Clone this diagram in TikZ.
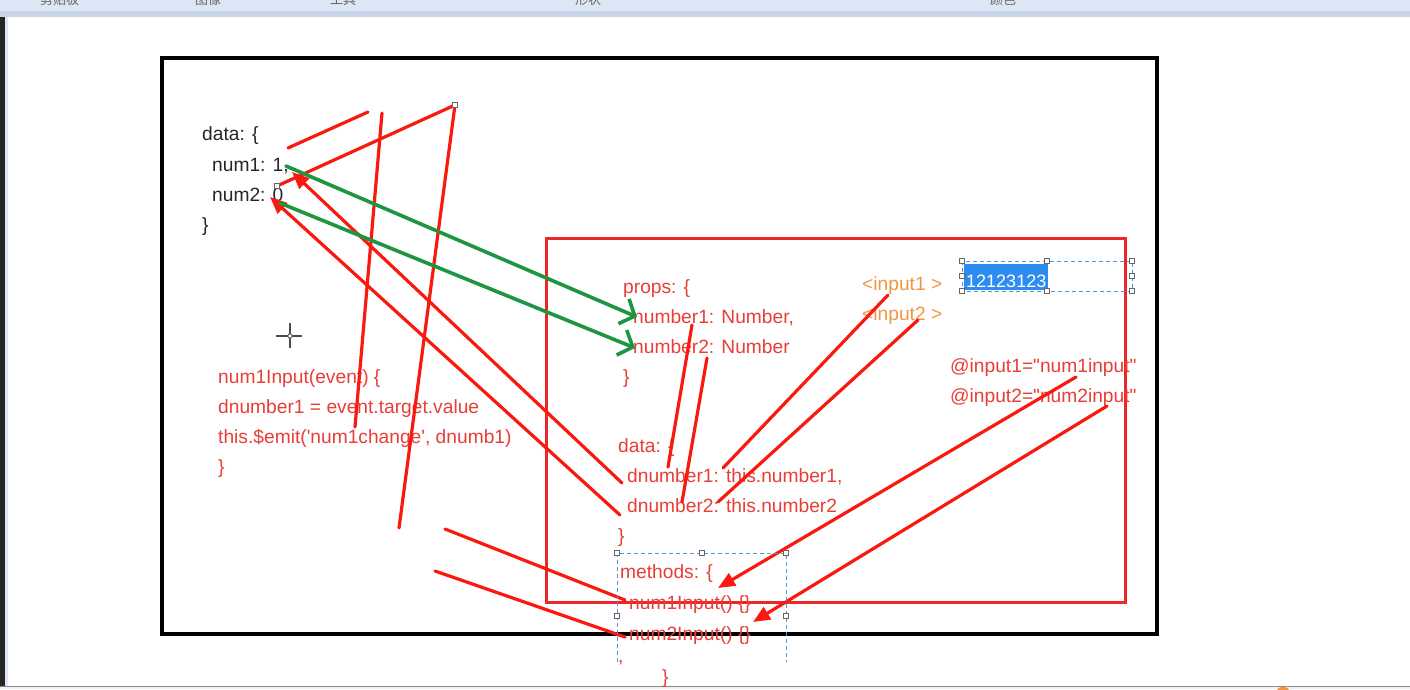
\documentclass[tikz,border=0pt]{standalone}
\usepackage{fontspec}
\setmainfont{Liberation Sans}
\newfontfamily\codefont{Liberation Sans}
\newfontfamily\cjk{Noto Sans CJK SC}
\usetikzlibrary{arrows.meta}
\definecolor{scribred}{RGB}{250,25,15}
\definecolor{codered}{RGB}{232,62,55}
\definecolor{codeorange}{RGB}{242,150,65}
\definecolor{pengreen}{RGB}{30,150,65}
\definecolor{selblue}{RGB}{45,140,240}
\definecolor{dashblue}{RGB}{80,150,220}
\definecolor{barblue}{RGB}{221,230,244}
\definecolor{barband}{RGB}{200,212,232}
\definecolor{boxred}{RGB}{235,40,40}
\begin{document}
\begin{tikzpicture}[x=1pt,y=-1pt,
  codetext/.style={anchor=base west,inner sep=0pt,font=\codefont\fontsize{19.2}{23}\selectfont},
  blacktext/.style={codetext,text=black!85},
  redtext/.style={codetext,text=codered},
  orangetext/.style={codetext,text=codeorange},
  bartext/.style={anchor=base west,inner sep=0pt,font=\cjk\fontsize{13}{15}\selectfont,text=black!60},
  scribble/.style={draw=scribred,line width=3.2pt,line cap=round},
  redarrow/.style={scribble,-{Triangle[length=17pt,width=14pt]}},
  greenarrow/.style={draw=pengreen,line width=3.6pt,line cap=round,
     -{Straight Barb[length=12pt,width=27pt,line width=3.6pt]}},
  handle/.style={draw=black!60,fill=white,line width=0.8pt,minimum size=5pt,inner sep=0pt,rectangle},
  selbox/.style={draw=dashblue,line width=1pt,dash pattern=on 4pt off 3pt}
]
\useasboundingbox (0,0) rectangle (1410,689);
\clip (0,0) rectangle (1410,689);
% window chrome
\fill[white] (0,0) rectangle (1410,689);
\fill[barblue] (0,0) rectangle (1410,11);
\fill[barband] (0,11) rectangle (1410,17);
\fill[black!85] (0,17) rectangle (5,689);
\fill[barblue] (5,17) rectangle (8,689);
\fill[black!6] (0,686) rectangle (1410,689);
\draw[black!45,line width=1pt] (0,686) -- (1410,686);
\fill[codeorange] (1283,690) ellipse (6 and 3);
\node[bartext] (t1) at (40,4) {剪贴板};
\node[bartext] (t2) at (195,4) {图像};
\node[bartext] (t3) at (330,4) {工具};
\node[bartext] (t4) at (575,4) {形状};
\node[bartext] (t5) at (990,4) {颜色};

% frames
\draw[black,line width=3.5pt] (162,58) rectangle (1157,634);
\draw[boxred,line width=3pt] (546,238) rectangle (1125,602);

% black data text
\node[blacktext] (d1) at (202,140) {data: \{};
\node[blacktext] (d2) at (212,171) {num1: 1,};
\node[blacktext] (d3) at (212,201) {num2: 0};
\node[blacktext] (d4) at (202,231) {\}};

% left red code
\node[redtext] (m1) at (218,383) {num1Input(event) \{};
\node[redtext] (m2) at (218,413) {dnumber1 = event.target.value};
\node[redtext] (m3) at (218,443) {this.\$emit('num1change', dnumb1)};
\node[redtext] (m4) at (218,473) {\}};

% props
\node[redtext] (p1) at (623,293) {props: \{};
\node[redtext] (p2) at (633,323) {number1: Number,};
\node[redtext] (p3) at (633,353) {number2: Number};
\node[redtext] (p4) at (623,383) {\}};

% data
\node[redtext] (q1) at (618,452) {data: \{};
\node[redtext] (q2) at (627,482) {dnumber1: this.number1,};
\node[redtext] (q3) at (627,512) {dnumber2: this.number2};
\node[redtext] (q4) at (618,542) {\}};

% methods
\node[redtext] (r1) at (620,578) {methods: \{};
\node[redtext] (r2) at (629,609) {num1Input() \{\}};
\node[redtext] (r3) at (629,640) {num2Input() \{\}};
\node[redtext] (r4) at (618,662) {,};
\node[redtext] (r5) at (662,683) {\}};

% inputs
\node[orangetext] (i1) at (862,290) {<input1 >};
\node[orangetext] (i2) at (862,320) {<input2 >};
\node[redtext] (e1) at (950,372) {@input1="num1input"};
\node[redtext] (e2) at (950,402) {@input2="num2input"};

% selected text box
\fill[selblue] (964,264) rectangle (1048,290);
\node[codetext,text=white,font=\codefont\fontsize{18}{22}\selectfont] (sel) at (966,287) {12123123};
\draw[selbox] (962,261) rectangle (1132,291);
\foreach \p in {(962,261),(1047,261),(1132,261),(962,276),(1132,276),(962,291),(1047,291),(1132,291)}
  \node[handle] at \p {};

% cursor
\draw[black!70,line width=1.4pt] (276,336) -- (302,336);
\draw[black!70,line width=1.4pt] (290,323) -- (290,348);
\draw[black!70,fill=white,line width=0.8pt] (290,336) circle (2.2);

% scribble coordinates
\coordinate (a1) at (288,148); \coordinate (a2) at (368,112);
\coordinate (b1) at (382,113); \coordinate (b2) at (355,427);
\coordinate (h1) at (455,105); \coordinate (c2) at (399,528);
\coordinate (h2) at (277,186);
\coordinate (f1) at (692,325); \coordinate (f2) at (668,467);
\coordinate (g1) at (707,358); \coordinate (g2) at (682,502);
\coordinate (j1) at (888,295); \coordinate (j2) at (723,468);
\coordinate (k1) at (918,320); \coordinate (k2) at (718,502);
\coordinate (l1) at (445,529); \coordinate (l2) at (625,600);
\coordinate (n1) at (435,571); \coordinate (n2) at (625,637);
\coordinate (s1) at (622,483); \coordinate (s2) at (292,172);
\coordinate (u1) at (620,515); \coordinate (u2) at (270,197);
\coordinate (v1) at (1076,377); \coordinate (v2) at (718,588);
\coordinate (w1) at (1107,406); \coordinate (w2) at (753,622);
\coordinate (x1) at (286,166); \coordinate (x2) at (637,317);
\coordinate (y1) at (280,203); \coordinate (y2) at (635,348);

\draw[scribble] (a1) -- (a2);
\draw[scribble] (b1) -- (b2);
\draw[scribble] (h1) -- (c2);
\draw[scribble] (h1) -- (h2);
\draw[scribble] (f1) -- (f2);
\draw[scribble] (g1) -- (g2);
\draw[scribble] (j1) -- (j2);
\draw[scribble] (k1) -- (k2);
\draw[scribble] (l1) -- (l2);
\draw[scribble] (n1) -- (n2);
\draw[redarrow] (s1) -- (s2);
\draw[redarrow] (u1) -- (u2);
\draw[redarrow] (v1) -- (v2);
\draw[redarrow] (w1) -- (w2);
\draw[greenarrow] (x1) -- (x2);
\draw[greenarrow] (y1) -- (y2);
\node[handle] at (h1) {};
\node[handle] at (h2) {};

% methods selection box
\draw[selbox] (617,662) -- (617,553) -- (786,553) -- (786,662);
\foreach \p in {(617,553),(702,553),(786,553),(617,616),(786,616)}
  \node[handle] at \p {};
\end{tikzpicture}
\end{document}
